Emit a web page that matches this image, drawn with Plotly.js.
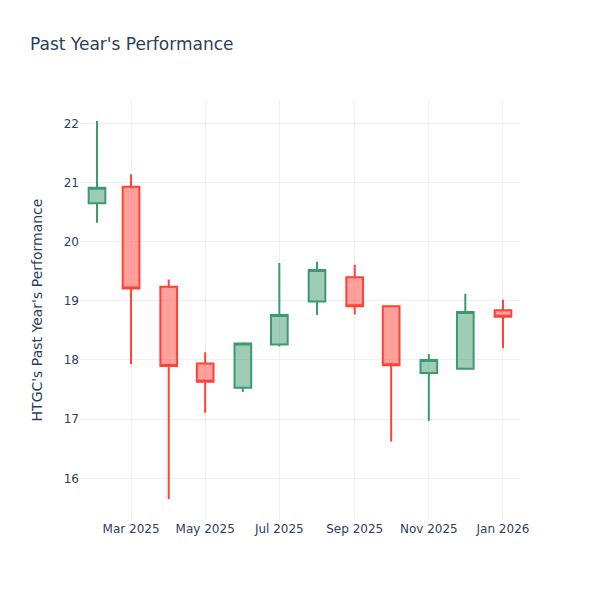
<!DOCTYPE html>
<html>
<head>
<meta charset="utf-8">
<script src="https://cdn.plot.ly/plotly-3.0.1.min.js"></script>
<style>
  html, body { margin: 0; padding: 0; background: #fff; }
  #chart { width: 600px; height: 600px; }
</style>
</head>
<body>
<div id="chart"></div>
<script>
// monthly candles
const dates = ['2025-02-01', '2025-03-01', '2025-04-01', '2025-05-01', '2025-06-01', '2025-07-01',
               '2025-08-01', '2025-09-01', '2025-10-01', '2025-11-01', '2025-12-01', '2026-01-01'];
const opens  = [20.65, 20.93, 19.24, 17.94, 17.53, 18.26, 18.99, 19.40, 18.91, 17.78, 17.85, 18.84];
const highs  = [22.04, 21.14, 19.36, 18.13, 18.30, 19.64, 19.66, 19.61, 18.92, 18.10, 19.12, 19.02];
const lows   = [20.32, 17.93, 15.65, 17.11, 17.46, 18.23, 18.76, 18.77, 16.62, 16.97, 17.85, 18.20];
const closes = [20.91, 19.21, 17.90, 17.63, 18.28, 18.76, 19.52, 18.91, 17.91, 18.00, 18.81, 18.73];

const ticker = 'HTGC';

const trace = {
  type: 'candlestick',
  x: dates,
  open: opens,
  high: highs,
  low: lows,
  close: closes,
  increasing: { line: { color: '#3D9970' } },
  decreasing: { line: { color: '#FF4136' } }
};

const gridCol = '#EBF0F8';

const layout = {
  width: 600,
  height: 600,
  paper_bgcolor: 'white',
  plot_bgcolor: 'white',
  font: { family: '"DejaVu Sans", verdana, sans-serif', color: '#2a3f5f', size: 12 },
  title: { text: "Past Year's Performance", x: 0.05, font: { size: 17 } },
  showlegend: false,
  margin: { l: 80, r: 80, t: 100, b: 80 },
  xaxis: {
    rangeslider: { visible: false },
    gridcolor: gridCol,
    zerolinecolor: gridCol,
    showline: false,
    ticks: ''
  },
  yaxis: {
    title: { text: ticker + "'s Past Year's Performance" },
    gridcolor: gridCol,
    zerolinecolor: gridCol,
    showline: false,
    ticks: ''
  }
};

Plotly.newPlot('chart', [trace], layout, { displayModeBar: false });
</script>
</body>
</html>
